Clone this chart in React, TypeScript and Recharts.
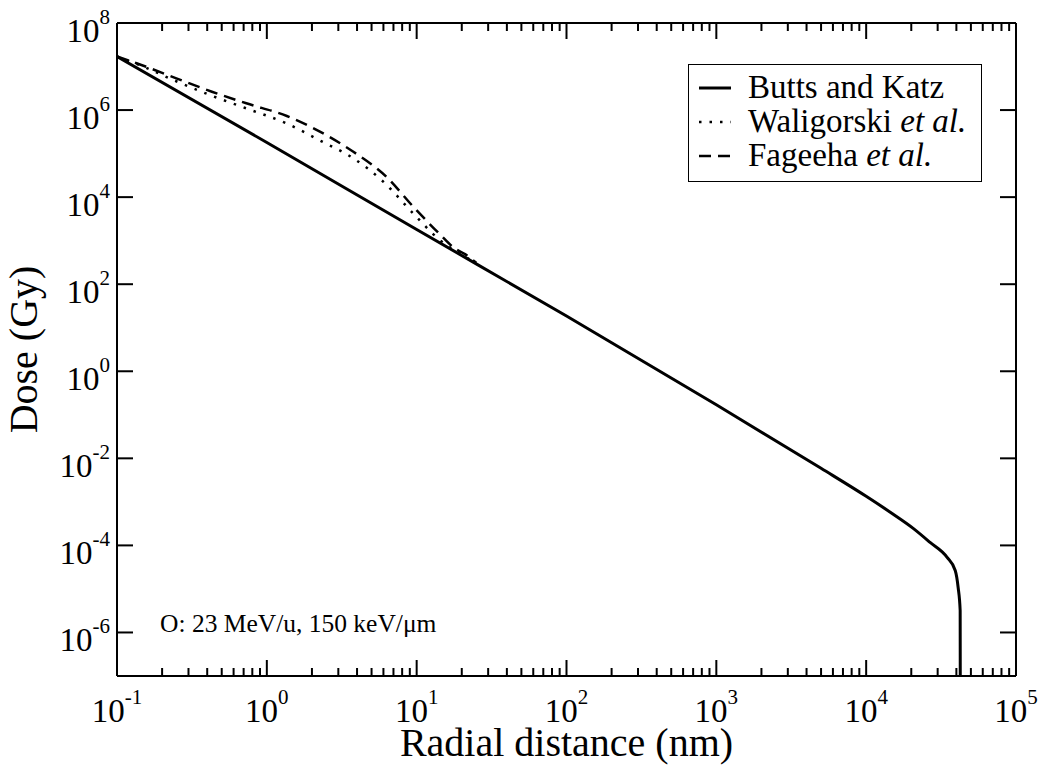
import { LineChart, Line, XAxis, YAxis, Legend } from 'recharts'

const FONT = '"Liberation Serif", "Times New Roman", Times, serif'

// radial distance (nm) and dose (Gy)
const buttsR = [0.1, 1, 10, 100, 1000, 5000, 10000, 14900, 20600, 26700, 34700, 39300, 41100, 42400, 42500]
const buttsDose = [1.7e7, 1.8e5, 1.8e3, 18.6, 0.17, 5.9e-3, 1.34e-3, 5.4e-4, 2.46e-4, 1.17e-4, 5.3e-5, 2.66e-5, 1.08e-5, 3.2e-6, 1e-8]

const waliR = [0.1, 0.142, 0.238, 0.418, 0.73, 1.36, 2.26, 3.78, 6.0, 9.5, 14.3, 17, 25]
const waliDose = [1.7e7, 1.08e7, 4.9e6, 2.21e6, 1.09e6, 4.9e5, 2.0e5, 7.8e4, 2.25e4, 4.2e3, 1.03e3, 670, 310]

const fageR = [0.1, 0.135, 0.244, 0.43, 0.73, 1.36, 2.26, 3.78, 6.3, 9.5, 14.3, 18, 21, 25]
const fageDose = [1.7e7, 1.19e7, 5.5e6, 2.64e6, 1.43e6, 7.3e5, 3.2e5, 1.1e5, 2.9e4, 6.0e3, 1.4e3, 660, 490, 310]

const xMajor = [0.1, 1, 10, 100, 1000, 10000, 100000]
const xExp = ['-1', '0', '1', '2', '3', '4', '5']
const xMinorSteps = [2, 3, 4, 5, 6, 7, 8, 9]
const yMajor = [1e-6, 1e-4, 1e-2, 1, 1e2, 1e4, 1e6, 1e8]
const yExp = ['-6', '-4', '-2', '0', '2', '4', '6', '8']

const seriesNames = ['Butts and Katz', 'Waligorski', 'Fageeha']
const seriesItalic = ['', ' et al.', ' et al.']
const seriesDash = [undefined, '2.5 8', '12 7']
const seriesWidth = [3, 2.5, 2.5]

const toPoints = (r: number[], d: number[]) => r.map((v, i) => ({ r: v, d: d[i] }))
const seriesData = [toPoints(buttsR, buttsDose), toPoints(waliR, waliDose), toPoints(fageR, fageDose)]

const xTicks = [...xMajor, ...xMajor.slice(0, -1).flatMap(m => xMinorSteps.map(s => m * s))]

// plot box in page pixels
const W = 1043
const H = 766
const PLOT_LEFT = 117
const PLOT_TOP = 23
const PLOT_RIGHT = 1016
const PLOT_BOTTOM = 676

const majorIndex = (v: number, majors: number[]) =>
    majors.findIndex(m => Math.abs(Math.log10(v) - Math.log10(m)) < 1e-6)

function XTick(props: any) {
    const { x, y, payload, side } = props
    const i = majorIndex(payload.value, xMajor)
    const len = i >= 0 ? 16 : 8
    const dir = side === 'top' ? 1 : -1
    return (
        <g>
            <line x1={x} x2={x} y1={y} y2={y + dir * len} stroke="#000" strokeWidth={2} />
            {side === 'bottom' && i >= 0 && (
                <text x={x} y={y + 46} textAnchor="middle" fontFamily={FONT} fontSize={33} fill="#000">
                    10<tspan dy={-18} fontSize={21}>{xExp[i]}</tspan>
                </text>
            )}
        </g>
    )
}

function YTick(props: any) {
    const { x, y, payload, side } = props
    const i = majorIndex(payload.value, yMajor)
    const dir = side === 'left' ? 1 : -1
    return (
        <g>
            <line x1={x} x2={x + dir * 16} y1={y} y2={y} stroke="#000" strokeWidth={2} />
            {side === 'left' && i >= 0 && (
                <text x={x - 7} y={y + 19} textAnchor="end" fontFamily={FONT} fontSize={33} fill="#000">
                    10<tspan dy={-18} fontSize={21}>{yExp[i]}</tspan>
                </text>
            )}
        </g>
    )
}

function ChartLegend({ payload }: any) {
    const rowCenters = [23, 57, 91]
    const rows = [...(payload || [])].sort(
        (a: any, b: any) => seriesNames.indexOf(a.value) - seriesNames.indexOf(b.value)
    )
    return (
        <div style={{ position: 'relative', width: 294, height: 118, boxSizing: 'border-box', border: '1.5px solid #000', background: '#fff', fontFamily: FONT }}>
            {rows.map((entry: any, k: number) => {
                const idx = seriesNames.indexOf(entry.value)
                return (
                    <div key={k} style={{ position: 'absolute', left: 0, top: rowCenters[k] - 17, height: 34, width: 294 }}>
                        <svg width={34} height={34} style={{ position: 'absolute', left: 9, top: 0 }}>
                            <line x1={1} x2={33} y1={17} y2={17} stroke="#000" strokeWidth={seriesWidth[idx]} strokeDasharray={seriesDash[idx]} />
                        </svg>
                        <span style={{ position: 'absolute', left: 59, top: -1, fontSize: 33, lineHeight: '34px', whiteSpace: 'nowrap', color: '#000' }}>
                            {seriesNames[idx]}<i>{seriesItalic[idx]}</i>
                        </span>
                    </div>
                )
            })}
        </div>
    )
}

export default function App() {
    const yMid = (PLOT_TOP + PLOT_BOTTOM) / 2
    return (
        <div style={{ position: 'absolute', left: 0, top: 0, width: W, height: H }}>
            <LineChart width={W} height={H} margin={{ top: PLOT_TOP - 1, right: W - PLOT_RIGHT - 1, bottom: 0, left: 0 }}>
                <XAxis
                    xAxisId="x"
                    dataKey="r"
                    type="number"
                    scale="log"
                    domain={[0.1, 100000]}
                    ticks={xTicks}
                    interval={0}
                    height={H - PLOT_BOTTOM}
                    tickSize={0}
                    tickMargin={0}
                    tickLine={false}
                    axisLine={{ stroke: '#000', strokeWidth: 2 }}
                    tick={(p: any) => <XTick {...p} side="bottom" />}
                    allowDataOverflow
                    label={() => (
                        <text x={(PLOT_LEFT + PLOT_RIGHT) / 2} y={756} textAnchor="middle" fontFamily={FONT} fontSize={40} fill="#000">
                            Radial distance (nm)
                        </text>
                    )}
                />
                <XAxis
                    xAxisId="xt"
                    orientation="top"
                    dataKey="r"
                    type="number"
                    scale="log"
                    domain={[0.1, 100000]}
                    ticks={xTicks}
                    interval={0}
                    height={1}
                    tickSize={0}
                    tickMargin={0}
                    tickLine={false}
                    axisLine={{ stroke: '#000', strokeWidth: 2 }}
                    tick={(p: any) => <XTick {...p} side="top" />}
                    allowDataOverflow
                />
                <YAxis
                    yAxisId="y"
                    type="number"
                    scale="log"
                    domain={[1e-7, 1e8]}
                    ticks={yMajor}
                    interval={0}
                    width={PLOT_LEFT}
                    tickSize={0}
                    tickMargin={0}
                    tickLine={false}
                    axisLine={{ stroke: '#000', strokeWidth: 2 }}
                    tick={(p: any) => <YTick {...p} side="left" />}
                    allowDataOverflow
                    label={() => (
                        <text x={37} y={yMid} transform={`rotate(-90, 37, ${yMid})`} textAnchor="middle" fontFamily={FONT} fontSize={40} fill="#000">
                            Dose (Gy)
                        </text>
                    )}
                />
                <YAxis
                    yAxisId="yr"
                    orientation="right"
                    type="number"
                    scale="log"
                    domain={[1e-7, 1e8]}
                    ticks={yMajor}
                    interval={0}
                    width={1}
                    tickSize={0}
                    tickMargin={0}
                    tickLine={false}
                    axisLine={{ stroke: '#000', strokeWidth: 2 }}
                    tick={(p: any) => <YTick {...p} side="right" />}
                    allowDataOverflow
                />
                <Legend
                    layout="vertical"
                    align="center"
                    verticalAlign="middle"
                    wrapperStyle={{ left: 688, top: 64, width: 294, height: 118 }}
                    content={(p: any) => <ChartLegend payload={p.payload} />}
                />
                {seriesData.map((data, i) => (
                    <Line
                        key={seriesNames[i]}
                        data={data}
                        dataKey="d"
                        name={seriesNames[i]}
                        xAxisId="x"
                        yAxisId="y"
                        type="monotone"
                        stroke="#000"
                        strokeWidth={seriesWidth[i]}
                        strokeDasharray={seriesDash[i]}
                        dot={false}
                        activeDot={false}
                        isAnimationActive={false}
                    />
                ))}
            </LineChart>
            <div style={{ position: 'absolute', left: 160, top: 611, fontFamily: FONT, fontSize: 25.5, lineHeight: '26px', whiteSpace: 'nowrap', color: '#000' }}>
                O: 23 MeV/u, 150 keV/μm
            </div>
        </div>
    )
}
